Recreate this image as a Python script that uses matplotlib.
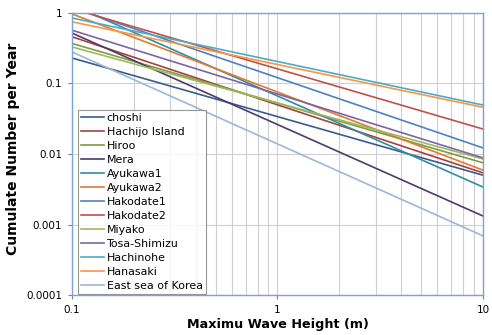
import numpy as np
import matplotlib
matplotlib.use("Agg")
import matplotlib.pyplot as plt
from matplotlib.ticker import FixedLocator, NullFormatter

# ---------- Data (value at H=0.1 m and at H=10 m, straight lines in log-log) ----------
stations = ["choshi", "Hachijo Island", "Hiroo", "Mera", "Ayukawa1", "Ayukawa2",
            "Hakodate1", "Hakodate2", "Miyako", "Tosa-Shimizu", "Hachinohe",
            "Hanasaki", "East sea of Korea"]
h_ends = [0.1, 10]
n_at_01 = [0.23, 0.46, 0.37, 0.52, 1.30, 0.97, 1.20, 1.15, 0.33, 0.57, 0.85, 0.75, 0.28]
n_at_10 = [0.0050, 0.0054, 0.0075, 0.00132, 0.0034, 0.0059, 0.0122, 0.0226, 0.0085,
           0.0088, 0.0495, 0.046, 0.00069]
colors = ["#385D8A", "#A9403D", "#7E9A48", "#4D3B6A", "#2F8CA6", "#E07A2E",
          "#4F81BD", "#C0504D", "#9BBB59", "#8064A2", "#4BACC6", "#F79646", "#9BB7D9"]

fig = plt.figure(figsize=(4.92, 3.35), dpi=100)
ax = fig.add_axes([0.1463, 0.1194, 0.8354, 0.8418])

for name, a, b, c in zip(stations, n_at_01, n_at_10, colors):
    ax.plot(h_ends, [a, b], color=c, lw=1.2, label=name)

ax.set_xscale("log")
ax.set_yscale("log")
ax.set_xlim(0.1, 10)
ax.set_ylim(0.0001, 1)

# grid: major + minor on x, major on y
ax.xaxis.set_minor_locator(FixedLocator([k * 10.0 ** e for e in (-1, 0) for k in range(2, 10)]))
ax.xaxis.set_minor_formatter(NullFormatter())
ax.yaxis.set_minor_locator(FixedLocator([]))
ax.grid(True, which="major", color="#d0d0d0", lw=0.8)
ax.grid(True, which="minor", axis="x", color="#d0d0d0", lw=0.8)
ax.set_axisbelow(True)

ax.set_xticks([0.1, 1, 10])
ax.set_xticklabels(["0.1", "1", "10"])
ax.set_yticks([0.0001, 0.001, 0.01, 0.1, 1])
ax.set_yticklabels(["0.0001", "0.001", "0.01", "0.1", "1"])
ax.tick_params(axis="both", which="major", labelsize=7.5, length=3, color="#7f7f7f", pad=4)
ax.tick_params(axis="x", which="minor", length=0)

for s in ax.spines.values():
    s.set_color("#7FA3D0")
    s.set_linewidth(1.0)

ax.set_xlabel("Maximu Wave Height (m)", fontsize=9.2, fontweight="bold", labelpad=2)
ax.set_ylabel("Cumulate Number per Year", fontsize=10, fontweight="bold")
ax.yaxis.set_label_coords(-0.127, 0.52)

leg = ax.legend(loc="lower left", bbox_to_anchor=(0.012, 0.0), fontsize=7.9, frameon=True,
                fancybox=False, handlelength=2.1, handletextpad=0.2, labelspacing=0.36,
                borderpad=0.3, borderaxespad=0.1)
leg.get_frame().set_edgecolor("#7f7f7f")
leg.get_frame().set_linewidth(0.8)

fig.savefig("out.png", dpi=100)
